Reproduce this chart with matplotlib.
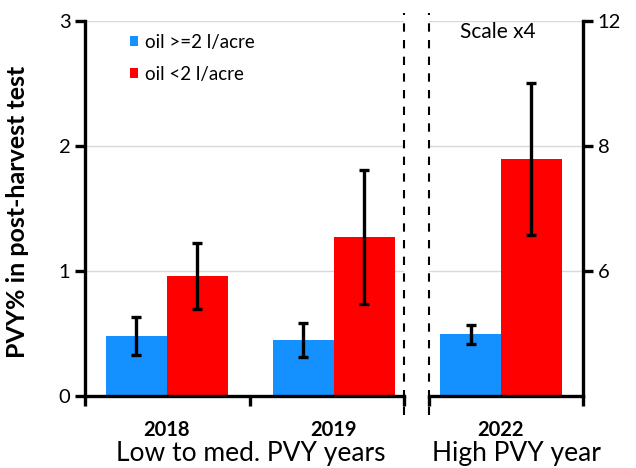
import numpy as np
import matplotlib
matplotlib.use("Agg")
import matplotlib.pyplot as plt

plt.rcParams['font.family'] = ['Lato', 'DejaVu Sans']

# data (left-axis units, 2022 panel drawn on "scale x4")
years_low = ['2018', '2019']
blue_low = [0.48, 0.45]
blue_low_err = [0.15, 0.135]
red_low = [0.96, 1.27]
red_low_err = [0.265, 0.535]

years_high = ['2022']
blue_high = [0.495]
blue_high_err = [0.075]
red_high = [1.895]
red_high_err = [0.61]

left_ticks = [0, 1, 2, 3]
right_ticks = [1, 2, 3]
right_labels = ['6', '8', '12']

BLUE = '#1590FF'
RED = '#FF0000'
W = 0.365
SPINE_LW = 2.4

fig = plt.figure(figsize=(6.36, 4.68), dpi=100)
ax1 = fig.add_axes([85/636, 72/468, 319/636, 375/468])
ax2 = fig.add_axes([429/636, 72/468, 154/636, 375/468])

err_kw = dict(ecolor='black', elinewidth=2.4, capsize=3.5, capthick=2.4)


def draw_panel(ax, years, blue, blue_err, red, red_err):
    x = np.arange(len(years))
    ax.bar(x - W/2, blue, W, yerr=blue_err, color=BLUE, error_kw=err_kw,
           label='oil >=2 l/acre', zorder=2)
    ax.bar(x + W/2, red, W, yerr=red_err, color=RED, error_kw=err_kw,
           label='oil <2 l/acre', zorder=2)
    ax.set_ylim(0, 3)
    ax.set_yticks(left_ticks)
    ax.grid(axis='y', color='#d9d9d9', lw=1, zorder=0)
    ax.set_axisbelow(True)
    ax.spines['top'].set_visible(False)
    ax.spines['bottom'].set_linewidth(SPINE_LW)
    ax.tick_params(axis='x', direction='out', length=7, width=SPINE_LW, labelbottom=False)
    ax.tick_params(axis='y', direction='out', length=7, width=SPINE_LW, labelsize=14.5)
    for i, yr in enumerate(years):
        ax.text(x[i], -0.09, yr, transform=ax.get_xaxis_transform(),
                ha='center', va='center', fontsize=14.5, fontweight='bold')
    return x


# left panel
draw_panel(ax1, years_low, blue_low, blue_low_err, red_low, red_low_err)
ax1.set_xlim(-0.49, 1.42)
ax1.set_xticks([-0.49, 0.5, 1.42])
ax1.spines['right'].set_visible(False)
ax1.spines['left'].set_linewidth(SPINE_LW)
ax1.set_ylabel('PVY% in post-harvest test', fontsize=18, fontweight='bold')
ax1.yaxis.set_label_coords(-0.175, 0.49)
ax1.text(0.5, -0.152, 'Low to med. PVY years', transform=ax1.get_xaxis_transform(),
         ha='center', va='center', fontsize=19)
ax1.legend(loc='upper left', bbox_to_anchor=(0.105, 0.995), frameon=False,
           fontsize=13.5, handlelength=0.45, handleheight=0.45, handletextpad=0.35,
           labelspacing=0.8, borderaxespad=0.2)

# right panel
draw_panel(ax2, years_high, blue_high, blue_high_err, red_high, red_high_err)
ax2.set_xlim(-0.431, 0.491)
ax2.set_xticks([-0.431, 0.491])
ax2.spines['left'].set_visible(False)
ax2.spines['right'].set_linewidth(SPINE_LW)
ax2.yaxis.tick_right()
ax2.set_yticks(right_ticks)
ax2.set_yticklabels(right_labels)
ax2.text(0.09, -0.152, 'High PVY year', transform=ax2.get_xaxis_transform(),
         ha='center', va='center', fontsize=19)
ax2.text(-0.02, 0.97, 'Scale x4', transform=ax2.get_xaxis_transform(),
         ha='center', va='center', fontsize=15)

# dashed separators
ax1.axvline(1.42, ymin=-0.05, ymax=1.021, color='black', lw=1.5,
            ls=(0, (4, 4)), clip_on=False)
ax2.axvline(-0.431, ymin=-0.05, ymax=1.021, color='black', lw=1.5,
            ls=(0, (4, 4)), clip_on=False)

fig.savefig('out.png', dpi=100)
